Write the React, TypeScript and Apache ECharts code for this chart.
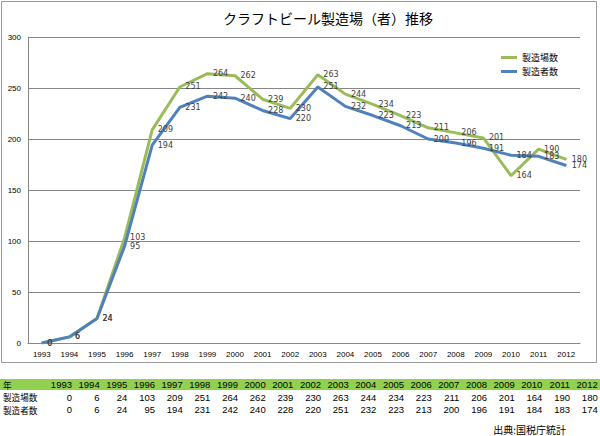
import React, { useEffect, useRef } from "react";
import * as echarts from "echarts";

const title = "クラフトビール製造場（者）推移";
const years = ["1993", "1994", "1995", "1996", "1997", "1998", "1999", "2000", "2001", "2002", "2003", "2004", "2005", "2006", "2007", "2008", "2009", "2010", "2011", "2012"];
const breweriesName = "製造場数";
const makersName = "製造者数";
const breweries = [0, 6, 24, 103, 209, 251, 264, 262, 239, 230, 263, 244, 234, 223, 211, 206, 201, 164, 190, 180];
const makers = [0, 6, 24, 95, 194, 231, 242, 240, 228, 220, 251, 232, 223, 213, 200, 196, 191, 184, 183, 174];
const yearHeader = "年";
const sourceText = "出典:国税庁統計";

const GREEN = "#9BBB59";
const BLUE = "#4F81BD";
const CJK = "'Noto Sans CJK JP', sans-serif";
const NUM = "'Liberation Sans', sans-serif";

export default function App() {
  const ref = useRef<HTMLDivElement>(null);
  useEffect(() => {
    if (!ref.current) return;
    const chart = echarts.init(ref.current, null, { renderer: "svg" });

    const colRight0 = 72;
    const colStep = 27.67;
    const tableTexts: any[] = [];
    const rows: { y: number; label: string; values: (string | number)[] }[] = [
      { y: 384.5, label: yearHeader, values: years },
      { y: 397, label: breweriesName, values: breweries },
      { y: 409.5, label: makersName, values: makers },
    ];
    rows.forEach((r) => {
      tableTexts.push({
        type: "text",
        x: 3,
        y: r.y,
        style: { text: r.label, fontSize: 8.6, lineHeight: 10, fontFamily: CJK, fill: "#000", textAlign: "left", textVerticalAlign: "middle" },
      });
      r.values.forEach((v, i) => {
        tableTexts.push({
          type: "text",
          x: colRight0 + i * colStep,
          y: r.y,
          style: { text: String(v), fontSize: 9.5, lineHeight: 10, fontFamily: NUM, fill: "#000", textAlign: "right", textVerticalAlign: "middle" },
        });
      });
    });

    const labelStyle = {
      show: true,
      position: "right" as const,
      distance: 5,
      fontSize: 8,
      color: "#404040",
      fontFamily: "'DejaVu Sans', sans-serif",
    };

    chart.setOption({
      animation: false,
      grid: { left: 28, right: 20, top: 37, bottom: 93 },
      legend: {
        data: [breweriesName, makersName],
        orient: "vertical",
        left: 501,
        top: 52,
        icon: "rect",
        itemWidth: 16,
        itemHeight: 3,
        itemGap: 3,
        padding: 0,
        textStyle: { fontSize: 9, fontFamily: CJK, color: "#000", lineHeight: 11 },
      },
      xAxis: {
        type: "category",
        data: years,
        boundaryGap: true,
        axisLine: { show: true, lineStyle: { color: "#868686", width: 1 } },
        axisTick: { show: false },
        axisLabel: { fontSize: 8, fontFamily: NUM, color: "#000", margin: 7, interval: 0 },
        splitLine: { show: false },
      },
      yAxis: {
        type: "value",
        min: 0,
        max: 300,
        interval: 50,
        axisLine: { show: true, lineStyle: { color: "#868686", width: 1 } },
        axisTick: { show: false },
        axisLabel: { fontSize: 8, fontFamily: NUM, color: "#000", margin: 7 },
        splitLine: { show: true, lineStyle: { color: "#868686", width: 1 } },
      },
      series: [
        {
          name: breweriesName,
          type: "line",
          data: breweries,
          symbol: "circle",
          symbolSize: 1,
          showSymbol: true,
          lineStyle: { color: GREEN, width: 3 },
          itemStyle: { color: GREEN },
          label: labelStyle,
        },
        {
          name: makersName,
          type: "line",
          data: makers,
          symbol: "circle",
          symbolSize: 1,
          showSymbol: true,
          lineStyle: { color: BLUE, width: 3 },
          itemStyle: { color: BLUE },
          label: labelStyle,
        },
      ],
      graphic: [
        {
          type: "rect",
          shape: { x: 1.5, y: 1.5, width: 595, height: 361 },
          style: { fill: "none", stroke: "#9a9a9a", lineWidth: 1 },
          silent: true,
          z: -10,
        },
        {
          type: "text",
          x: 223,
          y: 18,
          style: { text: title, fontSize: 14, fontFamily: CJK, fill: "#000", textAlign: "left", textVerticalAlign: "middle" },
        },
        {
          type: "rect",
          shape: { x: 0, y: 379, width: 600, height: 11 },
          style: { fill: "#92D050" },
          silent: true,
          z: -5,
        },
        ...tableTexts,
        {
          type: "text",
          x: 566,
          y: 429,
          style: { text: sourceText, fontSize: 10, lineHeight: 11, fontFamily: CJK, fill: "#000", textAlign: "right", textVerticalAlign: "middle" },
        },
      ],
    });
    return () => chart.dispose();
  }, []);
  return <div ref={ref} style={{ position: "absolute", left: 0, top: 0, width: 600, height: 436, background: "#fff" }} />;
}
